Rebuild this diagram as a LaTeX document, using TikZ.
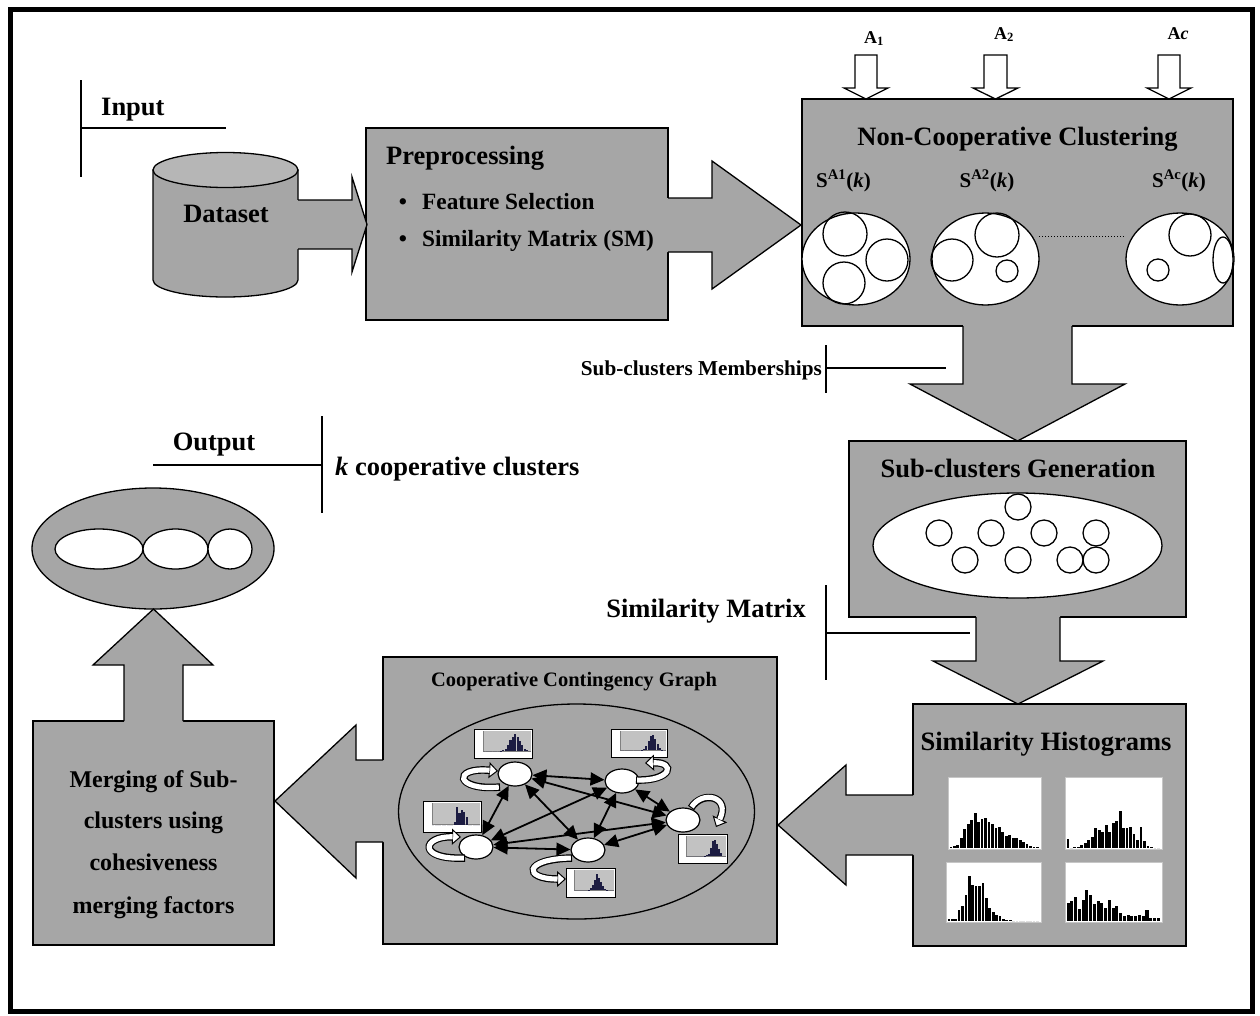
\documentclass[tikz,border=0pt]{standalone}
\usepackage{fontspec}
\setmainfont{Liberation Serif}
\usetikzlibrary{arrows.meta,shapes.geometric}

\definecolor{boxgray}{RGB}{166,166,166}
\definecolor{lidgray}{RGB}{182,182,182}
\definecolor{plotgray}{RGB}{194,194,194}
\definecolor{barnavy}{RGB}{28,28,66}

\newcommand{\fs}[1]{\fontsize{#1}{#1}\selectfont\bfseries}

% histogram panel: x1 y1 x2 y2 bar-count heights
\newcommand{\histpanel}[6]{%
  \fill[white] (#1,#2) rectangle (#3,#4);
  \draw[gray!45, line width=0.8pt] (#1,#2) rectangle (#3,#4);
  \pgfmathsetmacro{\hpW}{(#3-#1-3)/#5}
  \foreach \h [count=\i] in {#6} {
    \fill[black] ({#1+1.5+(\i-1)*\hpW},#4-0.8) rectangle ({#1+1.5+\i*\hpW-0.7},{#4-0.8-\h*(#4-#2)});
  }}

% small histogram thumbnail: x1 y1 x2 y2 heights(20)
\newcommand{\thumbhist}[5]{%
  \draw[fill=white, line width=1pt] (#1,#2) rectangle (#3,#4);
  \pgfmathsetmacro{\thL}{#1+0.16*(#3-#1)}
  \pgfmathsetmacro{\thR}{#3-0.02*(#3-#1)}
  \pgfmathsetmacro{\thT}{#2+0.07*(#4-#2)}
  \pgfmathsetmacro{\thB}{#4-0.24*(#4-#2)}
  \fill[plotgray] (\thL,\thT) rectangle (\thR,\thB);
  \draw[line width=0.4pt, gray] (\thL,\thT) -- (\thL,\thB) -- (\thR,\thB);
  \pgfmathsetmacro{\thW}{(\thR-\thL)/20}
  \foreach \h [count=\i] in {#5} {
    \fill[barnavy] ({\thL+(\i-1)*\thW},\thB) rectangle ({\thL+\i*\thW-0.3},{\thB-\h*(\thB-\thT)});
  }}

% curved white self-loop arrow
\newcommand{\selfloop}[1]{%
  \draw[line width=7.5pt, -{Triangle[length=9pt,width=16pt,line width=1pt,fill=white]}] #1;
  \draw[line width=5.1pt, white, shorten >=8.5pt, shorten <=1.2pt] #1;}

\tikzset{
  panel/.style={draw=black, fill=boxgray, line width=1.3pt, rectangle, inner sep=0pt},
  lbl/.style={font=\fs{26.5}, inner sep=0pt},
  blk/.style={fill=boxgray},
  blkline/.style={line width=1.3pt, line join=miter},
  tagline/.style={line width=1.3pt},
  gnode/.style={draw, fill=white, ellipse, line width=1.2pt, minimum width=34pt, minimum height=24pt, inner sep=0pt},
  gedge/.style={line width=1.8pt, {Triangle[length=14pt,width=13pt]}-{Triangle[length=14pt,width=13pt]}},
  inarrow/.style={draw, fill=white, line width=1.3pt, line join=miter},
}

\begin{document}
\begin{tikzpicture}[x=1pt,y=-1pt]
\useasboundingbox (0,0) rectangle (1260,1015);
\fill[white] (0,0) rectangle (1260,1015);
\draw[line width=5pt] (10,9) rectangle (1252,1011);

% ---------- Input ----------
\coordinate (inTop) at (81,80);
\coordinate (inBot) at (81,177);
\coordinate (inMid) at (81,128);
\coordinate (inEnd) at (226,128);
\draw[tagline] (inTop) -- (inBot);
\draw[tagline] (inMid) -- (inEnd);
\node[lbl, anchor=base west] (inputlbl) at (101,115) {Input};

% ---------- Dataset cylinder ----------
\draw[fill=boxgray, line width=1.3pt]
  (153,170) -- (153,280)
  .. controls (153,289.4) and (185.5,297) .. (225.5,297)
  .. controls (265.5,297) and (298,289.4) .. (298,280)
  -- (298,170) -- cycle;
\draw[fill=lidgray, line width=1.3pt] (225.5,170) ellipse [x radius=72.5, y radius=17.5];
\node[lbl, anchor=base] (dataset) at (226,222) {Dataset};

% ---------- Boxes ----------
\node[panel, minimum width=302pt, minimum height=192pt] (prep)   at (517,224) {};
\node[panel, minimum width=431pt, minimum height=227pt] (ncc)    at (1017.5,212.5) {};
\node[panel, minimum width=337pt, minimum height=176pt] (subgen) at (1017.5,529) {};
\node[panel, minimum width=273pt, minimum height=242pt] (hist)   at (1049.5,825) {};
\node[panel, minimum width=394pt, minimum height=287pt] (graph)  at (580,800.5) {};
\node[panel, minimum width=241pt, minimum height=224pt] (merge)  at (153.5,833) {};
\node[draw, fill=boxgray, ellipse, line width=1.3pt, minimum width=242pt, minimum height=121pt, inner sep=0pt] (outE) at (153,548.5) {};

% ---------- Block arrows ----------
% dataset -> preprocessing
\fill[blk] (296.5,200) -- (352,200) -- (352,177) -- (367,224.5) -- (352,272) -- (352,249) -- (296.5,249) -- cycle;
\draw[blkline] (298,200) -- (352,200) -- (352,177) -- (367,224.5) -- (352,272) -- (352,249) -- (298,249);
% preprocessing -> non-cooperative clustering
\fill[blk] (666.5,198) -- (712,198) -- (712,161) -- (801,225) -- (712,289) -- (712,252) -- (666.5,252) -- cycle;
\draw[blkline] (668,198) -- (712,198) -- (712,161) -- (801,225) -- (712,289) -- (712,252) -- (668,252);
% non-cooperative clustering -> sub-clusters generation
\fill[blk] (963,324.5) -- (963,384) -- (910,384) -- (1017.5,441) -- (1125,384) -- (1072,384) -- (1072,324.5) -- cycle;
\draw[blkline] (963,326) -- (963,384) -- (910,384) -- (1017.5,441) -- (1125,384) -- (1072,384) -- (1072,326);
% sub-clusters generation -> similarity histograms
\fill[blk] (976,615.5) -- (976,661) -- (933,661) -- (1018,704) -- (1103,661) -- (1060,661) -- (1060,615.5) -- cycle;
\draw[blkline] (976,617) -- (976,661) -- (933,661) -- (1018,704) -- (1103,661) -- (1060,661) -- (1060,617);
% similarity histograms -> contingency graph
\fill[blk] (914.5,795) -- (846,795) -- (846,765) -- (778,825) -- (846,885) -- (846,855) -- (914.5,855) -- cycle;
\draw[blkline] (913,795) -- (846,795) -- (846,765) -- (778,825) -- (846,885) -- (846,855) -- (913,855);
% contingency graph -> merging
\fill[blk] (384.5,760) -- (356,760) -- (356,725) -- (275,801) -- (356,878) -- (356,842) -- (384.5,842) -- cycle;
\draw[blkline] (383,760) -- (356,760) -- (356,725) -- (275,801) -- (356,878) -- (356,842) -- (383,842);
% merging -> output clusters
\fill[blk] (124,722.5) -- (124,665) -- (93,665) -- (153.5,609) -- (213,665) -- (183,665) -- (183,722.5) -- cycle;
\draw[blkline] (124,721) -- (124,665) -- (93,665) -- (153.5,609) -- (213,665) -- (183,665) -- (183,721);

% ---------- Preprocessing text ----------
\node[lbl, anchor=base west] (preplbl) at (386,164) {Preprocessing};
\node[font=\fs{23.3}, inner sep=0pt, anchor=base] (bul1) at (403,209) {\textbullet};
\node[font=\fs{23.3}, inner sep=0pt, anchor=base west] (feat) at (422,209) {Feature Selection};
\node[font=\fs{23.3}, inner sep=0pt, anchor=base] (bul2) at (403,246) {\textbullet};
\node[font=\fs{23.3}, inner sep=0pt, anchor=base west] (simsm) at (422,246) {Similarity Matrix (SM)};

% ---------- Attribute inputs ----------
\draw[inarrow] (855,55) -- (877,55) -- (877,88) -- (888,88) -- (866,99) -- (844,88) -- (855,88) -- cycle;
\draw[inarrow] (984,55) -- (1007,55) -- (1007,88) -- (1018,88) -- (995.5,99) -- (973,88) -- (984,88) -- cycle;
\draw[inarrow] (1158,55) -- (1180,55) -- (1180,88) -- (1191,88) -- (1169,99) -- (1147,88) -- (1158,88) -- cycle;
\node[font=\fs{18}, inner sep=0pt, anchor=base] (a1) at (874,43) {A\textsubscript{1}};
\node[font=\fs{18}, inner sep=0pt, anchor=base] (a2) at (1004,39) {A\textsubscript{2}};
\node[font=\fs{18}, inner sep=0pt, anchor=base] (ac) at (1178,39) {A\textit{c}};

% ---------- Non-cooperative clustering ----------
\node[lbl, anchor=base] (ncclbl) at (1017.5,145) {Non-Cooperative Clustering};
\node[font=\fs{21}, inner sep=0pt, anchor=base] (s1) at (843.5,187) {S\textsuperscript{A1}(\textit{k})};
\node[font=\fs{21}, inner sep=0pt, anchor=base] (s2) at (987,187) {S\textsuperscript{A2}(\textit{k})};
\node[font=\fs{21}, inner sep=0pt, anchor=base] (s3) at (1179,187) {S\textsuperscript{Ac}(\textit{k})};

\begin{scope}[line width=1.3pt]
  \draw[fill=white] (856,259) ellipse [x radius=54, y radius=46];
  \draw (845,234) circle [radius=22];
  \draw (887,260) circle [radius=21];
  \draw (844,283) circle [radius=21];
  \draw[fill=white] (985.5,259) ellipse [x radius=53.5, y radius=46];
  \draw (952,260) circle [radius=21];
  \draw (997,235) circle [radius=22];
  \draw (1007,271) circle [radius=11];
  \draw[fill=white] (1180,259) ellipse [x radius=54, y radius=46];
  \draw (1190,235) circle [radius=21];
  \draw (1158,270) circle [radius=11];
  \draw (1223,260) ellipse [x radius=10, y radius=23];
\end{scope}
\draw[line width=1pt, dotted] (1039,236) -- (1125,236);

% ---------- Sub-clusters memberships tag ----------
\coordinate (smTop) at (826,345);
\coordinate (smBot) at (826,393);
\coordinate (smMid) at (826,368);
\coordinate (smEnd) at (946,368);
\draw[tagline] (smTop) -- (smBot);
\draw[tagline] (smMid) -- (smEnd);
\node[font=\fs{21.2}, inner sep=0pt, anchor=base east] (smlbl) at (822,375) {Sub-clusters Memberships};

% ---------- Sub-clusters generation ----------
\node[lbl, anchor=base] (sglbl) at (1018,477) {Sub-clusters Generation};
\draw[fill=white, line width=1.3pt] (1017.5,545.5) ellipse [x radius=144.5, y radius=52.5];
\foreach \cx/\cy in {1018/507, 939/533, 991/533, 1044/533, 1096/533, 965/560, 1018/560, 1070/560, 1096/560}
  \draw[line width=1.3pt] (\cx,\cy) circle [radius=13];

% ---------- Similarity matrix tag ----------
\coordinate (mxTop) at (826,585);
\coordinate (mxBot) at (826,680);
\coordinate (mxMid) at (826,633);
\coordinate (mxEnd) at (970,633);
\draw[tagline] (mxTop) -- (mxBot);
\draw[tagline] (mxMid) -- (mxEnd);
\node[lbl, anchor=base east] (mxlbl) at (806,617) {Similarity Matrix};

% ---------- Similarity histograms ----------
\node[lbl, anchor=base] (histlbl) at (1046,750) {Similarity Histograms};
\histpanel{948}{777}{1041}{849}{26}{0.02,0.03,0.05,0.14,0.26,0.34,0.39,0.49,0.37,0.40,0.42,0.37,0.34,0.28,0.30,0.22,0.17,0.18,0.14,0.14,0.12,0.09,0.06,0.03,0.02,0.01}
\histpanel{1065}{777}{1162}{849}{27}{0.13,0,0.01,0.02,0.04,0.07,0.12,0.15,0.28,0.25,0.22,0.32,0.22,0.35,0.38,0.51,0.28,0.28,0.30,0.20,0.12,0.30,0.10,0.03,0.02,0,0}
\histpanel{946}{862}{1041}{922}{27}{0.03,0.03,0.04,0.18,0.26,0.44,0.75,0.60,0.58,0.59,0.64,0.38,0.22,0.16,0.10,0.08,0.03,0.02,0.02,0,0,0,0,0,0,0,0}
\histpanel{1065}{862}{1162}{922}{25}{0.30,0.33,0.40,0.20,0.36,0.52,0.44,0.28,0.34,0.30,0.22,0.36,0.22,0.26,0.14,0.08,0.10,0.08,0.08,0.10,0.08,0.18,0.05,0.06,0.06}

% ---------- Cooperative contingency graph ----------
\node[font=\fs{20.5}, inner sep=0pt, anchor=base] (cglbl) at (574,686) {Cooperative Contingency Graph};
\draw[line width=1.3pt] (576.5,811.5) ellipse [x radius=178, y radius=107.5];

\node[gnode] (n1) at (515,774) {};
\node[gnode] (n2) at (622,781) {};
\node[gnode] (n3) at (683,820) {};
\node[gnode] (n4) at (476,847) {};
\node[gnode] (n5) at (588,850) {};
\foreach \a/\b in {n1/n2,n1/n3,n1/n4,n1/n5,n2/n3,n2/n4,n2/n5,n3/n4,n3/n5,n4/n5}
  \draw[gedge] (\a) -- (\b);

\thumbhist{474}{729}{532}{758}{0,0,0,0,0,0,0,0.02,0.05,0.12,0.3,0.55,0.72,0.85,0.72,0.5,0.3,0.1,0.03,0}
\thumbhist{611}{729}{667}{757}{0,0,0,0,0,0,0,0,0,0.02,0.05,0.2,0.5,0.75,0.8,0.6,0.3,0.1,0.02,0}
\thumbhist{423}{801}{481}{832}{0,0,0,0,0,0,0,0,0,0.1,0.8,0.55,0.7,0.6,0.35,0,0,0,0,0}
\thumbhist{678}{834}{727}{863}{0,0,0,0,0,0,0,0,0,0.02,0.05,0.1,0.4,0.75,0.8,0.6,0.35,0.15,0,0}
\thumbhist{566}{868}{615}{897}{0,0,0,0,0,0,0,0.02,0.1,0.25,0.5,0.8,0.6,0.4,0.2,0.05,0.02,0,0,0}

\selfloop{(500,787) .. controls (455,791) and (452,767) .. (498,771)}
\selfloop{(636,780) .. controls (672,781) and (676,762) .. (645,763)}
\selfloop{(691,808) .. controls (702,790) and (731,796) .. (716,827)}
\selfloop{(465,858) .. controls (417,860) and (422,836) .. (461,837)}
\selfloop{(572,858) .. controls (523,859) and (523,879) .. (566,879)}

% ---------- Merging ----------
\node[font=\fs{24}, inner sep=0pt, anchor=base] (m1) at (153.5,787) {Merging of Sub-};
\node[font=\fs{24}, inner sep=0pt, anchor=base] (m2) at (153.5,828) {clusters using};
\node[font=\fs{24}, inner sep=0pt, anchor=base] (m3) at (153.5,870) {cohesiveness};
\node[font=\fs{24}, inner sep=0pt, anchor=base] (m4) at (153.5,913) {merging factors};

% ---------- Output ----------
\draw[fill=white, line width=1.3pt] (99,549) ellipse [x radius=44, y radius=20];
\draw[fill=white, line width=1.3pt] (175.5,549) ellipse [x radius=32.5, y radius=20];
\draw[fill=white, line width=1.3pt] (230,549) ellipse [x radius=22, y radius=20];

\coordinate (outTop) at (322,416);
\coordinate (outBot) at (322,513);
\coordinate (outMid) at (322,465);
\coordinate (outEnd) at (153,465);
\draw[tagline] (outTop) -- (outBot);
\draw[tagline] (outMid) -- (outEnd);
\node[lbl, anchor=base] (outlbl) at (214,450) {Output};
\node[lbl, anchor=base west] (kcl) at (335,475) {\textit{k} cooperative clusters};
\end{tikzpicture}
\end{document}
